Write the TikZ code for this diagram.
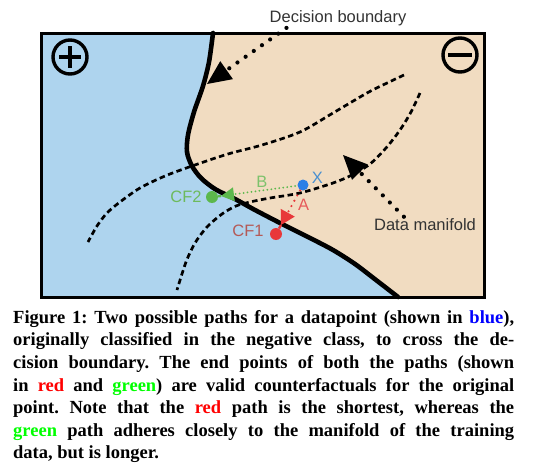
\documentclass[tikz,border=0pt]{standalone}
\usepackage{fontspec}
\setmainfont{Liberation Serif}
\newfontfamily\labelfont{Liberation Sans}
\usetikzlibrary{arrows.meta, positioning}

\definecolor{posblue}{HTML}{AED4EE}
\definecolor{negpeach}{HTML}{F1DCC1}
\definecolor{ptblue}{HTML}{2B7FE6}
\definecolor{xtext}{HTML}{4A90D0}
\definecolor{cfgreen}{HTML}{5CB84C}
\definecolor{greentext}{HTML}{6DBA5C}
\definecolor{btext}{HTML}{7EC26C}
\definecolor{cfred}{HTML}{E8383A}
\definecolor{cfonetext}{HTML}{B45A57}
\definecolor{atext}{HTML}{E65A5A}
\definecolor{labelgray}{HTML}{333333}

\frenchspacing

\begin{document}
\begin{tikzpicture}[
        x=1pt, y=-1pt,
        frameline/.style={
            draw=black,
            line width=3pt
        },
        signline/.style={
            draw=black,
            line width=3.4pt
        },
        boundaryline/.style={
            line width=4.6pt,
            line cap=round
        },
        manifold/.style={
            line width=2.7pt,
            dash pattern=on 5.5pt off 3.5pt
        },
        pointer/.style={
            line width=4.2pt,
            line cap=round,
            dash pattern=on 0pt off 10pt,
            -{Triangle[length=24pt, width=22pt, line width=0pt]}
        },
        greenpath/.style={
            cfgreen,
            line width=2pt,
            line cap=round,
            dash pattern=on 0pt off 4pt,
            -{Triangle[length=13pt, width=14pt, line width=0pt]}
        },
        redpath/.style={
            cfred,
            line width=2.4pt,
            line cap=round,
            dash pattern=on 0pt off 6pt,
            -{Triangle[length=14pt, width=16pt, line width=0pt]}
        },
        stem/.style={
            line width=2.4pt
        },
        point/.style={
            circle,
            inner sep=0pt,
            minimum size=11pt,
            fill=#1
        },
        lbl/.style={
            font=\fontsize{16.5}{18}\labelfont,
            inner sep=0pt
        },
        caption/.style={
            font=\fontsize{18.5}{22.6}\selectfont\bfseries,
            align=left,
            inner sep=0pt
        }
    ]

        \useasboundingbox (0,0) rectangle (542,474);

        % ---------------------------------------------------------------------
        % The two class regions and the decision boundary
        % ---------------------------------------------------------------------

        \fill[negpeach] (41,33) rectangle (484,297);

        \fill[posblue]
            (41,33) -- plot[smooth] coordinates {
                (213,33) (209,62) (203,86) (194,112) (188,135) (187,152)
                (192,166) (201,178) (215,189) (235,199) (255,210) (282,224)
                (310,238) (333,250) (355,264) (376,280) (398,297)
            } -- (41,297) -- cycle;

        % ---------------------------------------------------------------------
        % Data manifold (dashed)
        % ---------------------------------------------------------------------

        \draw[manifold] plot[smooth] coordinates {
            (404,75) (385,84) (367,93) (333,113) (300,132) (262,145)
            (228,154) (192,166) (165,176) (140,188) (120,202) (107,213)
            (97,226) (88,242)
        };

        \draw[manifold] plot[smooth] coordinates {
            (420,93) (411,112) (400,130) (386,148) (370,164) (352,175)
            (333,183) (300,193) (270,198) (250,202) (236,206) (222,214)
            (207,227) (195,243) (186,262) (177,290)
        };

        \draw[boundaryline] plot[smooth] coordinates {
            (213,33) (209,62) (203,86) (194,112) (188,135) (187,152)
            (192,166) (201,178) (215,189) (235,199) (255,210) (282,224)
            (310,238) (333,250) (355,264) (376,280) (398,297)
        };

        \draw[frameline] (41,33) rectangle (484,297);

        % ---------------------------------------------------------------------
        % Class signs
        % ---------------------------------------------------------------------

        \draw[signline] (70,57) circle[radius=17pt];
        \draw[signline, line width=4pt] (59,57) -- (81,57) (70,46) -- (70,68);

        \draw[signline] (460,55) circle[radius=17pt];
        \draw[signline, line width=4pt] (448,55) -- (472,55);

        % ---------------------------------------------------------------------
        % Pointer labels
        % ---------------------------------------------------------------------

        \node[lbl, labelgray] (dblbl) at (338,18) {Decision boundary};
        \coordinate (dbtip) at (207,84);
        \draw[pointer] ([xshift=17pt, yshift=-2pt]dblbl.south west) -- (dbtip);

        \node[lbl, labelgray] (manlbl) at (425,225) {Data manifold};
        \coordinate (maniftip) at (343,155);
        \draw[pointer] ([xshift=30pt, yshift=2pt]manlbl.north west) -- (maniftip);

        % ---------------------------------------------------------------------
        % Datapoint and its two counterfactuals
        % ---------------------------------------------------------------------

        \coordinate (greentip) at (221,196);
        \coordinate (redtip) at (281,225);

        \node[point=cfgreen, minimum size=12pt] (cftwo) at (212,197) {};
        \node[point=cfred, minimum size=12pt] (cfone) at (276,234) {};

        \draw[greenpath] (303,185) -- node[lbl, btext, above=2pt] (lblb) {B} (greentip);
        \draw[cfgreen, stem] (greentip) -- (cftwo);

        \draw[redpath] (303,185) -- node[lbl, atext, right=5pt] (lbla) {A} (redtip);
        \draw[cfred, stem] (redtip) -- (cfone);

        \node[point=ptblue] (ptx) at (303,185) {};

        \node[lbl, xtext, right=3pt of ptx, yshift=7pt] (lblx) {X};
        \node[lbl, greentext, left=4pt of cftwo] (lblcftwo) {CF2};
        \node[lbl, cfonetext, left=6pt of cfone, yshift=3pt] (lblcfone) {CF1};

        % ---------------------------------------------------------------------
        % Caption
        % ---------------------------------------------------------------------

        \node[caption, anchor=north west] (caption) at (13,310) {
            \makebox[501pt][s]{Figure 1: Two possible paths for a datapoint (shown in \textcolor{blue}{blue}),}\\
            \makebox[501pt][s]{originally classified in the negative class, to cross the de-}\\
            \makebox[501pt][s]{cision boundary. The end points of both the paths (shown}\\
            \makebox[501pt][s]{in \textcolor{red}{red} and \textcolor{green}{green}) are valid counterfactuals for the original}\\
            \makebox[501pt][s]{point. Note that the \textcolor{red}{red} path is the shortest, whereas the}\\
            \makebox[501pt][s]{\textcolor{green}{green} path adheres closely to the manifold of the training}\\
            \makebox[501pt][l]{data, but is longer.}
        };

    \end{tikzpicture}
\end{document}
